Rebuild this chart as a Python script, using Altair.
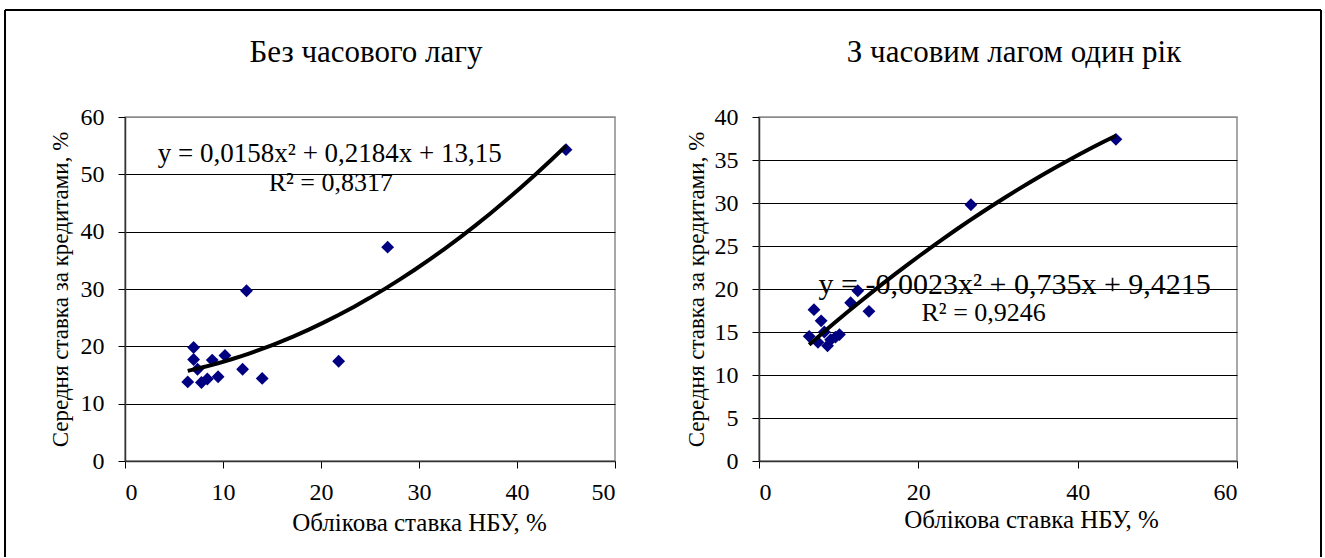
import altair as alt
import pandas as pd

FONT = "Liberation Serif"

# ---- data ----
left_x = [6.4, 7.0, 7.0, 7.4, 7.8, 8.4, 8.9, 9.5, 10.2, 12.0, 12.4, 14.0, 21.8, 26.8, 45.0]
left_y = [13.8, 19.8, 17.7, 16.0, 13.7, 14.3, 17.6, 14.7, 18.4, 16.0, 29.7, 14.4, 17.4, 37.3, 54.3]

right_x = [6.3, 6.9, 7.4, 7.8, 8.2, 8.6, 9.0, 9.6, 10.1, 11.5, 12.4, 13.8, 26.6, 44.8]
right_y = [14.5, 17.6, 13.8, 16.3, 15.0, 13.4, 14.1, 14.4, 14.7, 18.4, 19.8, 17.4, 29.8, 37.4]

left_title = "Без часового лагу"
right_title = "З часовим лагом один рік"
x_title = "Облікова ставка НБУ, %"
y_title = "Середня ставка за кредитами, %"

left_xticks = [0, 10, 20, 30, 40, 50]
left_yticks = [0, 10, 20, 30, 40, 50, 60]
right_xticks = [0, 20, 40, 60]
right_yticks = [0, 5, 10, 15, 20, 25, 30, 35, 40]

left_labels = ["y = 0,0158x² + 0,2184x + 13,15", "R² = 0,8317"]
left_label_x = [20.9, 21.0]
left_label_y = [52.2, 47.1]
right_labels = ["y = -0,0023x² + 0,735x + 9,4215", "R² = 0,9246"]
right_label_x = [32.1, 28.2]
right_label_y = [19.4, 16.3]


def panel(xs, ys, xdom, xticks, ydom, yticks, title, title_cx, labels, lx, ly,
          label_sizes, width, height, xtitle_pad, xtitle_x, ytitle_pad, frame=False):
    df = pd.DataFrame({"x": xs, "y": ys})
    top = ydom[1]
    x_enc = alt.X("x:Q", scale=alt.Scale(domain=xdom, nice=False),
                  axis=alt.Axis(values=xticks, title=x_title, grid=False,
                                titlePadding=xtitle_pad, labelPadding=12,
                                titleX=xtitle_x, titleAlign="center"))
    y_enc = alt.Y("y:Q", scale=alt.Scale(domain=ydom, nice=False),
                  axis=alt.Axis(values=yticks, title=y_title, grid=True,
                                gridColor={"condition": {"test": f"datum.value == {top}",
                                                         "value": "#8c8c8c"},
                                           "value": "black"},
                                titlePadding=ytitle_pad, labelPadding=14))
    base = alt.Chart(df)
    pts = base.mark_point(shape="diamond", filled=True, color="#000080",
                          size=165, opacity=1).encode(x=x_enc, y=y_enc)
    line = base.transform_regression("x", "y", method="poly", order=2).mark_line(
        color="black", strokeWidth=4).encode(x="x:Q", y="y:Q")
    layers = [pts, line]
    for t, xv, yv, fs in zip(labels, lx, ly, label_sizes):
        layers.append(alt.Chart(pd.DataFrame({"x": [xv], "y": [yv], "t": [t]})).mark_text(
            font=FONT, fontSize=fs, align="center", baseline="alphabetic",
            color="black").encode(x="x:Q", y="y:Q", text="t:N"))
    one = pd.DataFrame({"t": [title]})
    layers.append(alt.Chart(one).mark_text(
        font=FONT, fontSize=31, align="center", baseline="alphabetic",
        color="black").encode(x=alt.value(title_cx), y=alt.value(-55), text="t:N"))
    if frame:
        r = dict(color="black", strokeWidth=2)
        layers.append(alt.Chart(one).mark_rule(**r).encode(
            x=alt.value(-120), x2=alt.value(1196), y=alt.value(-107)))
        layers.append(alt.Chart(one).mark_rule(**r).encode(
            x=alt.value(-120), y=alt.value(-107), y2=alt.value(440)))
        layers.append(alt.Chart(one).mark_rule(**r).encode(
            x=alt.value(1196), y=alt.value(-107), y2=alt.value(440)))
    return alt.layer(*layers).properties(width=width, height=height)


left = panel(left_x, left_y, [0, 50], left_xticks, [0, 60], left_yticks,
             left_title, 241, left_labels, left_label_x, left_label_y, [27, 26],
             490, 344, 6, 294, 8, frame=True)
right = panel(right_x, right_y, [0, 60], right_xticks, [0, 40], right_yticks,
              right_title, 255, right_labels, right_label_x, right_label_y, [30, 26],
              478, 344, 3, 272, 6)

chart = alt.hconcat(left, right, spacing=144, bounds="flush").properties(
    padding={"left": 3, "top": 8, "right": 0, "bottom": 0},
    background="white",
).configure_view(stroke="#8c8c8c", strokeWidth=1.5).configure_axis(
    labelFont=FONT, labelFontSize=24, labelColor="black",
    titleFont=FONT, titleFontWeight="normal", titleColor="black",
    domainColor="#333333", domainWidth=1.5,
    tickColor="black", tickSize=7, tickWidth=1,
    gridWidth=1,
).configure_axisX(titleFontSize=25).configure_axisY(titleFontSize=23)

chart.save("out.html", embed_options={"renderer": "svg", "actions": False})
